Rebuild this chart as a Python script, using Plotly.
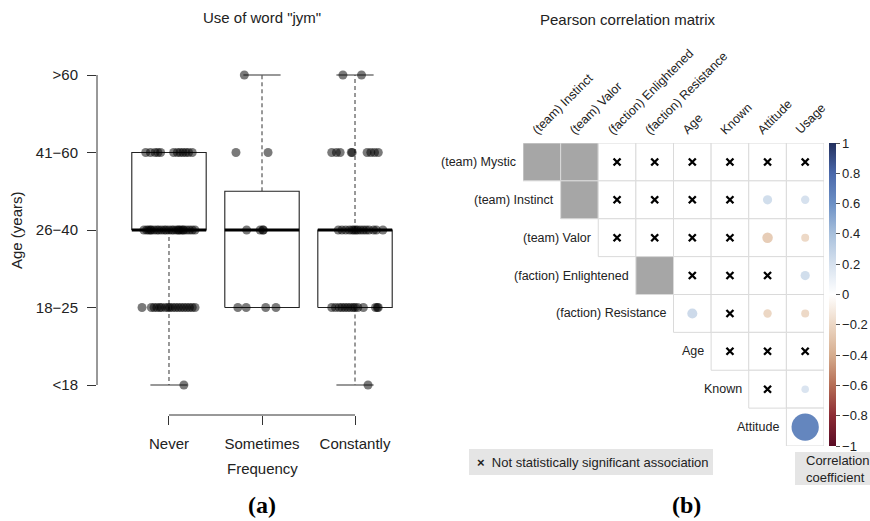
import plotly.graph_objects as go

W, H = 870, 521

# ---------------- Panel (a) data ----------------
freq_labels = ["Never", "Sometimes", "Constantly"]
age_labels = ["<18", "18\u221225", "26\u221240", "41\u221260", ">60"]

box_min = [0, 1, 0]
box_q1 = [2, 1, 1]
box_median = [2, 2, 2]
box_q3 = [3, 2.5, 2]
box_max = [3, 4, 4]

# horizontal jitter (category units) of the plotted responses, by age code
never_jitter = {
    0: [0.16],
    1: [-0.29, -0.19, -0.16, -0.13, -0.10, -0.08, -0.04, -0.01, 0.01, 0.04, 0.07,
        0.10, 0.13, 0.16, 0.19, 0.22, 0.25, 0.28],
    2: [-0.27, -0.24, -0.22, -0.20, -0.19, -0.16, -0.13, -0.11, -0.08, -0.05, -0.03,
        0.0, 0.03, 0.05, 0.08, 0.10, 0.11, 0.13, 0.15, 0.16, 0.19, 0.22, 0.25, 0.28],
    3: [-0.25, -0.20, -0.15, -0.12, -0.09, 0.05, 0.09, 0.12, 0.15, 0.18, 0.21, 0.25],
}
sometimes_jitter = {
    1: [-0.26, -0.17, 0.04, 0.15],
    2: [-0.165, -0.02, 0.01, 0.015],
    3: [-0.28, 0.065],
    4: [-0.19],
}
constantly_jitter = {
    0: [0.14],
    1: [-0.25, -0.21, -0.17, -0.14, -0.11, -0.08, -0.05, -0.02, 0.0, 0.03, 0.09,
        0.22, 0.24, 0.25],
    2: [-0.18, -0.14, -0.10, -0.06, -0.03, -0.01, 0.01, 0.03, 0.06, 0.09, 0.12,
        0.15, 0.20, 0.23, 0.30],
    3: [-0.25, -0.20, -0.16, -0.04, -0.03, 0.13, 0.17, 0.21, 0.25],
    4: [-0.13, 0.07],
}
group_jitter = [never_jitter, sometimes_jitter, constantly_jitter]

# ---------------- Panel (b) data ----------------
col_labels = ["(team) Instinct", "(team) Valor", "(faction) Enlightened",
              "(faction) Resistance", "Age", "Known", "Attitude", "Usage"]
row_labels = ["(team) Mystic", "(team) Instinct", "(team) Valor",
              "(faction) Enlightened", "(faction) Resistance", "Age", "Known",
              "Attitude"]
# upper-triangle correlations, row i covers columns i..7 (None = not applicable)
corr_mystic = [None, None, 0.04, -0.03, 0.05, 0.02, -0.04, 0.03]
corr_instinct = [None, 0.10, -0.09, 0.04, 0.03, 0.22, 0.20]
corr_valor = [0.05, -0.04, 0.03, -0.05, -0.25, -0.19]
corr_enlightened = [None, 0.04, 0.05, 0.06, 0.22]
corr_resistance = [0.24, -0.04, -0.20, -0.19]
corr_age = [0.03, -0.05, 0.06]
corr_known = [0.07, 0.18]
corr_attitude = [0.65]
sig_mystic = [False] * 8
sig_instinct = [False, False, False, False, False, True, True]
sig_valor = [False, False, False, False, True, True]
sig_enlightened = [False, False, False, False, True]
sig_resistance = [True, False, True, True]
sig_age = [False, False, False]
sig_known = [False, True]
sig_attitude = [True]
corr_rows = [corr_mystic, corr_instinct, corr_valor, corr_enlightened,
             corr_resistance, corr_age, corr_known, corr_attitude]
sig_rows = [sig_mystic, sig_instinct, sig_valor, sig_enlightened,
            sig_resistance, sig_age, sig_known, sig_attitude]
cbar_ticks = [1, 0.8, 0.6, 0.4, 0.2, 0, -0.2, -0.4, -0.6, -0.8, -1]

colorscale = [
    [0.0, "#5a0c25"], [0.1, "#8c2b34"], [0.2, "#b56d55"], [0.3, "#d6ad8e"],
    [0.4, "#ecd7c4"], [0.5, "#ffffff"], [0.6, "#d6e1ee"], [0.7, "#a8c0dc"],
    [0.8, "#6c90c5"], [0.9, "#4a68aa"], [1.0, "#23305e"],
]

FONT = "Liberation Sans, Arial, sans-serif"


def px_x(p):
    return p / W


def px_y(p):
    return 1 - p / H


fig = go.Figure()

# ---------------- Panel (a) drawing ----------------
half = 0.4
cap = 0.2
for g in range(3):
    c = g + 1
    wx, wy = [], []
    if box_max[g] > box_q3[g]:
        wx += [c, c, None]
        wy += [box_q3[g], box_max[g], None]
    if box_min[g] < box_q1[g]:
        wx += [c, c, None]
        wy += [box_q1[g], box_min[g], None]
    if wx:
        fig.add_trace(go.Scatter(x=wx, y=wy, mode="lines",
                                 line=dict(color="#333", width=1, dash="4px,3px"),
                                 hoverinfo="skip", showlegend=False))
    fig.add_trace(go.Scatter(
        x=[c - cap, c + cap, None, c - cap, c + cap],
        y=[box_max[g], box_max[g], None, box_min[g], box_min[g]],
        mode="lines", line=dict(color="#333", width=1.1),
        hoverinfo="skip", showlegend=False))
    fig.add_trace(go.Scatter(
        x=[c - half, c + half, c + half, c - half, c - half],
        y=[box_q1[g], box_q1[g], box_q3[g], box_q3[g], box_q1[g]],
        mode="lines", fill="toself", fillcolor="white",
        line=dict(color="#222", width=1.1),
        hoverinfo="skip", showlegend=False))
    fig.add_trace(go.Scatter(
        x=[c - half, c + half], y=[box_median[g], box_median[g]],
        mode="lines", line=dict(color="black", width=3.2),
        hoverinfo="skip", showlegend=False))

for g in range(3):
    px, py = [], []
    for age, jits in group_jitter[g].items():
        for j in jits:
            px.append(g + 1 + j)
            py.append(age)
    fig.add_trace(go.Scatter(
        x=px, y=py, mode="markers",
        marker=dict(size=9, color="rgba(0,0,0,0.52)", opacity=1,
                    line=dict(width=0)),
        showlegend=False, hoverinfo="skip"))

# ---------------- Panel (b) drawing ----------------
shapes = []
for i, row in enumerate(corr_rows):
    for k, val in enumerate(row):
        j = i + k
        shapes.append(dict(
            type="rect", xref="x2", yref="y2",
            x0=j - 0.5, x1=j + 0.5, y0=i - 0.5, y1=i + 0.5,
            line=dict(color="#dadada", width=1),
            fillcolor="#a6a6a6" if val is None else "white",
            layer="below"))

cx, cy, cr, cs = [], [], [], []
xx, xy = [], []
for i, row in enumerate(corr_rows):
    for k, val in enumerate(row):
        if val is None:
            continue
        j = i + k
        cx.append(j)
        cy.append(i)
        cr.append(val)
        cs.append(max(abs(val) * 42, 0.5))
        if not sig_rows[i][k]:
            xx.append(j)
            xy.append(i)

fig.add_trace(go.Scatter(
    x=cx, y=cy, xaxis="x2", yaxis="y2", mode="markers",
    marker=dict(size=cs, color=cr, cmin=-1, cmax=1, colorscale=colorscale,
                opacity=1, line=dict(width=0), showscale=True,
                colorbar=dict(
                    x=px_x(829), xanchor="left", xpad=0,
                    y=px_y((143 + 446) / 2), yanchor="middle", ypad=0,
                    lenmode="pixels", len=303, thickness=7, outlinewidth=0,
                    ticks="outside", ticklen=4, tickwidth=1, tickcolor="#555",
                    tickvals=cbar_ticks,
                    ticktext=[str(t).replace("-", "\u2212") if t != 0 else "0"
                              for t in cbar_ticks],
                    tickfont=dict(family=FONT, size=13, color="#222"))),
    showlegend=False, hoverinfo="skip"))

fig.add_trace(go.Scatter(
    x=xx, y=xy, xaxis="x2", yaxis="y2", mode="markers",
    marker=dict(symbol="x-thin", size=7, line=dict(width=2.3, color="black"),
                color="black"),
    showlegend=False, hoverinfo="skip"))

shapes.append(dict(type="line", xref="x domain", yref="y",
                   x0=0, x1=0, y0=0, y1=len(age_labels) - 1,
                   line=dict(color="#333", width=1)))
shapes.append(dict(type="line", xref="x", yref="y domain",
                   x0=1, x1=len(freq_labels), y0=0, y1=0,
                   line=dict(color="#333", width=1)))

shapes.append(dict(type="rect", xref="paper", yref="paper",
                   x0=px_x(469), x1=px_x(713), y0=px_y(475), y1=px_y(449),
                   fillcolor="#e5e5e5", line=dict(width=0)))
shapes.append(dict(type="rect", xref="paper", yref="paper",
                   x0=px_x(795), x1=px_x(872), y0=px_y(485), y1=px_y(452),
                   fillcolor="#e5e5e5", line=dict(width=0)))

annotations = []
for i, lab in enumerate(row_labels):
    annotations.append(dict(
        x=i - 0.5, y=i, xref="x2", yref="y2", text=lab, showarrow=False,
        xanchor="right", yanchor="middle", xshift=-5,
        font=dict(family=FONT, size=12.5, color="#222")))
for j, lab in enumerate(col_labels):
    annotations.append(dict(
        x=j, y=-0.5, xref="x2", yref="y2", text=lab, showarrow=False,
        xanchor="left", yanchor="bottom", textangle=-45, xshift=-15, yshift=3,
        font=dict(family=FONT, size=12.5, color="#222")))


def paper_text(x, y, text, size=15, family=FONT, **kw):
    d = dict(x=px_x(x), y=px_y(y), xref="paper", yref="paper", text=text,
             showarrow=False, xanchor=kw.pop("xanchor", "center"),
             yanchor=kw.pop("yanchor", "middle"),
             font=dict(family=family, size=size, color=kw.pop("color", "#222")))
    d.update(kw)
    return d


SERIF = "Liberation Serif, Times New Roman, serif"
annotations += [
    paper_text(262, 18, 'Use of word "jym"'),
    paper_text(628, 19, "Pearson correlation matrix"),
    paper_text(16, 230, "Age (years)", textangle=-90),
    paper_text(262, 468, "Frequency"),
    paper_text(262, 505, "<b>(a)</b>", size=24, family=SERIF, color="black"),
    paper_text(686, 505, "<b>(b)</b>", size=24, family=SERIF, color="black"),
    paper_text(475, 462, "<b>\u00d7</b>  Not statistically significant association",
               size=13, xanchor="left"),
    paper_text(804, 468.5, "Correlation<br>coefficient", size=13,
               xanchor="left", align="left"),
]

fig.update_layout(
    width=W, height=H,
    margin=dict(l=0, r=0, t=0, b=0),
    paper_bgcolor="white", plot_bgcolor="white",
    showlegend=False,
    xaxis=dict(domain=[px_x(97), px_x(427)], range=[0.226, 3.774],
               tickvals=[1, 2, 3], ticktext=freq_labels,
               ticks="outside", ticklen=9, tickcolor="#333",
               ticklabelstandoff=6,
               showgrid=False, zeroline=False, showline=False,
               tickfont=dict(family=FONT, size=15, color="#222")),
    yaxis=dict(domain=[px_y(415), px_y(62)], range=[-0.387, 4.168],
               tickvals=[0, 1, 2, 3, 4], ticktext=age_labels,
               ticks="outside", ticklen=9, tickcolor="#333",
               ticklabelstandoff=6,
               showgrid=False, zeroline=False, showline=False,
               tickfont=dict(family=FONT, size=15, color="#222")),
    xaxis2=dict(domain=[px_x(523), px_x(824)], range=[-0.5, 7.5],
                visible=False, anchor="y2"),
    yaxis2=dict(domain=[px_y(446), px_y(143)], range=[7.5, -0.5],
                visible=False, anchor="x2"),
    shapes=shapes,
    annotations=annotations,
)

fig.write_html("out.html",
               config={"displayModeBar": False},
               post_script="document.body.style.margin='0px';"
                           "document.body.style.overflow='hidden';")
